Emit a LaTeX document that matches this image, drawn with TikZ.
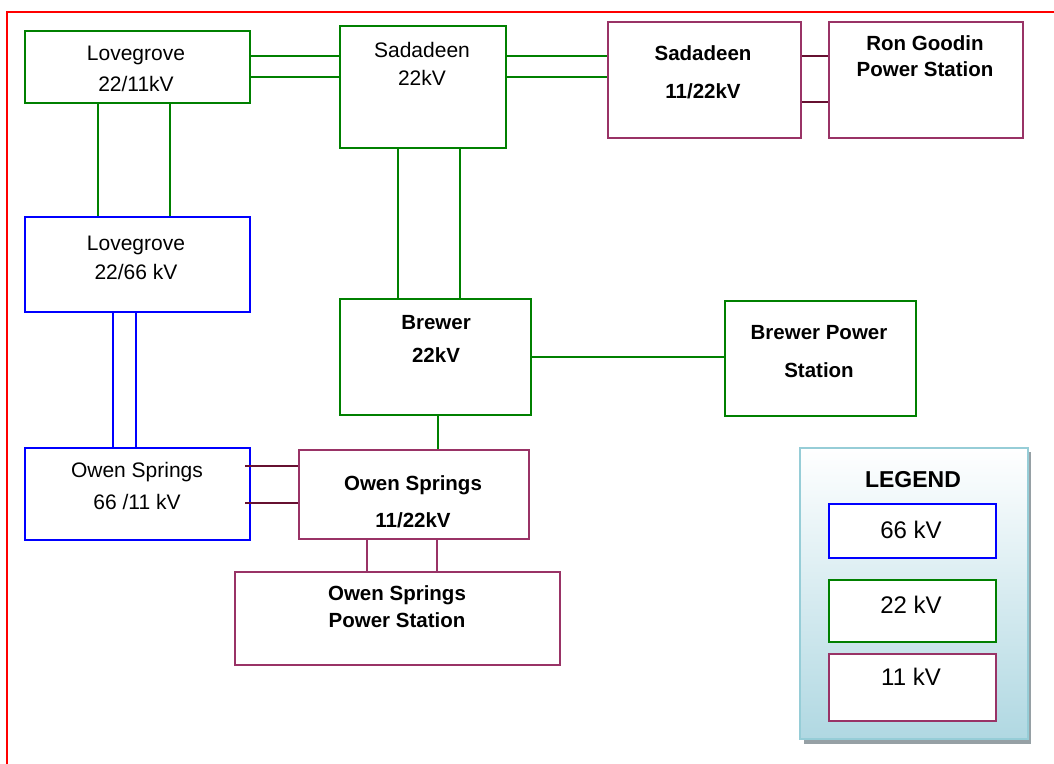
\documentclass[tikz,border=0pt]{standalone}
\usepackage{fontspec}
\setmainfont{Liberation Sans}
\definecolor{cgreen}{RGB}{0,128,0}
\definecolor{cblue}{RGB}{0,0,255}
\definecolor{cmaroon}{RGB}{153,51,102}
\definecolor{cwire}{RGB}{102,16,48}
\definecolor{lgborder}{RGB}{150,205,215}
\definecolor{lgbottom}{RGB}{176,216,226}
\definecolor{lgshadow}{RGB}{150,160,165}
\begin{document}
\begin{tikzpicture}[x=1pt,y=-1pt,
  box/.style={draw, line width=2pt, inner sep=0pt, anchor=north west, fill=white},
  gbox/.style={box, draw=cgreen},
  bbox/.style={box, draw=cblue},
  mbox/.style={box, draw=cmaroon},
  lbl/.style={align=center, inner sep=0pt, font=\fontsize{21}{#1}\selectfont},
  blbl/.style={align=center, inner sep=0pt, font=\fontsize{20.5}{#1}\selectfont\bfseries},
  leglbl/.style={inner sep=0pt, font=\fontsize{24}{28}\selectfont},
  gwire/.style={draw=cgreen, line width=1.8pt},
  bwire/.style={draw=cblue, line width=1.8pt},
  mwire/.style={draw=cwire, line width=1.8pt},
  mlink/.style={draw=cmaroon, line width=1.8pt}]
\useasboundingbox (0,0) rectangle (1054,763);
\fill[white] (0,0) rectangle (1054,763);
% page border
\draw[red, line width=2pt] (6.5,775) -- (6.5,11.5) -- (1065,11.5);

% boxes
\node[gbox, minimum width=225pt, minimum height=72pt]  (lg1)  at (24,30)  {};
\node[gbox, minimum width=166pt, minimum height=122pt] (sd22) at (339,25) {};
\node[mbox, minimum width=193pt, minimum height=116pt] (sd11) at (607,21) {};
\node[mbox, minimum width=194pt, minimum height=116pt] (rg)   at (828,21) {};
\node[bbox, minimum width=225pt, minimum height=95pt]  (lg2)  at (24,216) {};
\node[gbox, minimum width=191pt, minimum height=116pt] (brw)  at (339,298) {};
\node[gbox, minimum width=191pt, minimum height=115pt] (bps)  at (724,300) {};
\node[bbox, minimum width=225pt, minimum height=92pt]  (os66) at (24,447) {};
\node[mbox, minimum width=230pt, minimum height=89pt]  (os11) at (298,449) {};
\node[mbox, minimum width=325pt, minimum height=93pt]  (osps) at (234,571) {};

% labels
\node[lbl=31]  (lg1t)  at (136,69)  {Lovegrove\\22/11kV};
\node[lbl=28]  (sd22t) at (422,64)  {Sadadeen\\22kV};
\node[blbl=38] (sd11t) at (703,72)  {Sadadeen\\11/22kV};
\node[blbl=26] (rgt)   at (925,56)  {Ron Goodin\\Power Station};
\node[lbl=29]  (lg2t)  at (136,257.5) {Lovegrove\\22/66 kV};
\node[blbl=33] (brwt)  at (436,338.5) {Brewer\\22kV};
\node[blbl=38] (bpst)  at (819,352) {Brewer Power\\Station};
\node[lbl=32]  (os66t) at (137,486) {Owen Springs\\66 /11 kV};
\node[blbl=37] (os11t) at (413,501.5) {Owen Springs\\11/22kV};
\node[blbl=27] (ospst) at (397,606.5) {Owen Springs\\Power Station};

% connectors 22 kV
\draw[gwire] (lg1.east |- 0,56) -- (sd22.west |- 0,56);
\draw[gwire] (lg1.east |- 0,77) -- (sd22.west |- 0,77);
\draw[gwire] (sd22.east |- 0,56) -- (sd11.west |- 0,56);
\draw[gwire] (sd22.east |- 0,77) -- (sd11.west |- 0,77);
\draw[gwire] (lg1.south -| 98,0) -- (lg2.north -| 98,0);
\draw[gwire] (lg1.south -| 170,0) -- (lg2.north -| 170,0);
\draw[gwire] (sd22.south -| 398,0) -- (brw.north -| 398,0);
\draw[gwire] (sd22.south -| 460,0) -- (brw.north -| 460,0);
\draw[gwire] (brw.east |- 0,357) -- (bps.west |- 0,357);
\draw[gwire] (brw.south -| 438,0) -- (os11.north -| 438,0);
% connectors 66 kV
\draw[bwire] (lg2.south -| 113,0) -- (os66.north -| 113,0);
\draw[bwire] (lg2.south -| 136,0) -- (os66.north -| 136,0);
% connectors 11 kV
\draw[mwire] (sd11.east |- 0,56) -- (rg.west |- 0,56);
\draw[mwire] (sd11.east |- 0,102) -- (rg.west |- 0,102);
\draw[mwire] (os66.east |- 0,466) ++(-6,0) -- (os11.west |- 0,466);
\draw[mwire] (os66.east |- 0,503) ++(-6,0) -- (os11.west |- 0,503);
\draw[mlink] (os11.south -| 367,0) -- (osps.north -| 367,0);
\draw[mlink] (os11.south -| 437,0) -- (osps.north -| 437,0);

% legend
\fill[lgshadow] (804,452) rectangle (1031,744);
\node[draw=lgborder, line width=2pt, top color=white, bottom color=lgbottom,
      inner sep=0pt, anchor=north west, minimum width=228pt, minimum height=291pt] (leg) at (799,447) {};
\node[leglbl, font=\fontsize{23}{27}\selectfont\bfseries] (legt) at (913,480) {LEGEND};
\node[bbox, minimum width=167pt, minimum height=54pt] (l66) at (828,503) {};
\node[gbox, minimum width=167pt, minimum height=62pt] (l22) at (828,579) {};
\node[mbox, minimum width=167pt, minimum height=67pt] (l11) at (828,653) {};
\node[leglbl] (l66t) at (911,530) {66 kV};
\node[leglbl] (l22t) at (911,605) {22 kV};
\node[leglbl] (l11t) at (911,677) {11 kV};
\end{tikzpicture}
\end{document}
